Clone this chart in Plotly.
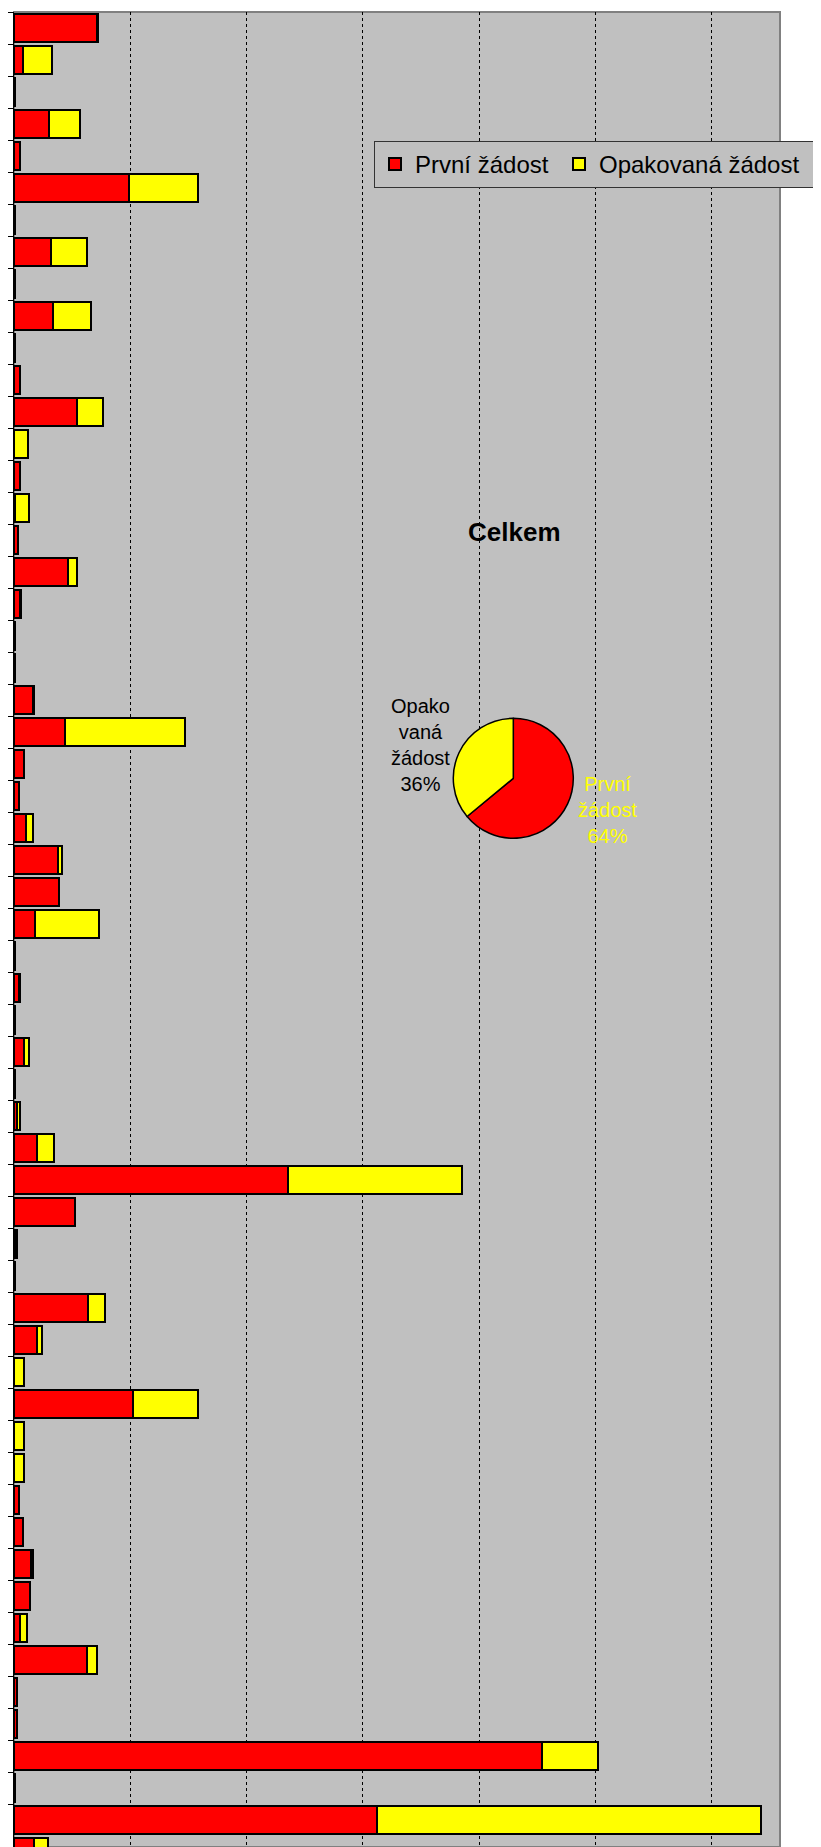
import plotly.graph_objects as go

# Category slots (labels are cropped out of the reference, only positions remain)
categories = [str(i + 1) for i in range(58)]

prvni = [71, 7.5, 1, 30.4, 5.5, 98.6, 1, 31.8, 1, 33.8,
         1, 5, 54.4, 0, 5, 1, 3.5, 46, 5, 1,
         1, 16, 44, 9, 4, 10, 38, 38.5, 18, 1,
         4, 1, 9, 1, 3, 19.5, 236, 52.5, 2, 1,
         64, 20, 0, 102, 0, 0, 4, 8, 15, 14,
         5, 63, 3, 3, 454, 0.5, 312, 17]

opakovana = [1, 25, 0, 26.4, 0, 59.6, 0, 31, 0, 32.4,
             0, 0, 21.8, 12, 0, 12, 0, 8.3, 1, 0,
             0, 1, 102.6, 0, 0, 6, 3.5, 0, 54.7, 0,
             1, 0, 4, 0, 2, 15, 149, 0, 1, 0,
             14.6, 4, 8.6, 56, 8.5, 8.5, 0, 0, 1, 0,
             6, 8.5, 0, 0, 48, 0, 330, 12]

series_names = ["První žádost", "Opakovaná žádost"]
series_colors = ["#FF0000", "#FFFF00"]

pie_labels = ["První žádost", "Opakovaná žádost"]
pie_values = [64, 36]

OFF = 8  # default page body margin
W, H = 813, 1839
ML, MR, MT, MB = 6, 41, 4, 0
PW, PH = W - ML - MR, H - MT - MB


def px_x(x):
    return (x - OFF - ML) / PW


def px_y(y):
    return (OFF + H - MB - y) / PH


fig = go.Figure()
legend_widths = [139, 215]
for name, vals, col, lw in zip(series_names, [prvni, opakovana], series_colors, legend_widths):
    fig.add_trace(go.Bar(
        y=categories, x=vals, name=name, orientation="h", legendwidth=lw,
        marker=dict(color=col, line=dict(color="black", width=2)),
    ))

# pie: centre (513, 778), radius 60 px
fig.add_trace(go.Pie(
    labels=pie_labels, values=pie_values, sort=False, direction="clockwise",
    rotation=0, textinfo="none", showlegend=False,
    marker=dict(colors=series_colors, line=dict(color="black", width=1.5)),
    domain=dict(x=[px_x(453.3), px_x(573.3)], y=[px_y(838.3), px_y(718.3)]),
))

fig.update_layout(
    width=W, height=H,
    margin=dict(l=ML, r=MR, t=MT, b=MB, pad=0),
    paper_bgcolor="white", plot_bgcolor="#C0C0C0",
    barmode="stack", bargap=0.15,
    font=dict(family="Liberation Sans, Arial, sans-serif", color="black"),
    legend=dict(
        orientation="h", x=px_x(374), xanchor="left", y=px_y(141), yanchor="top",
        bgcolor="#C0C0C0", bordercolor="#333333", borderwidth=1,
        font=dict(size=24, family="Liberation Sans, Arial, sans-serif"),
        itemwidth=30, traceorder="normal",
    ),
    xaxis=dict(
        range=[0, 766 / 1.163], dtick=100, tick0=0, showticklabels=False,
        showgrid=True, gridcolor="black", gridwidth=1, griddash="dot",
        zeroline=False, showline=False, ticks="",
    ),
    yaxis=dict(
        type="category", categoryorder="array", categoryarray=categories,
        range=[-0.5 + PH / 32.0, -0.5], showticklabels=False,
        ticks="outside", tickson="boundaries", ticklen=7, tickcolor="black",
        tickwidth=1, showline=True, linecolor="black", linewidth=1,
        showgrid=False, zeroline=False, automargin=False,
    ),
    shapes=[dict(
        type="rect", xref="paper", yref="paper", x0=0, x1=1, y0=0, y1=1,
        line=dict(color="#808080", width=2), fillcolor="rgba(0,0,0,0)", layer="below",
    )],
    annotations=[
        dict(text="<b>Celkem</b>", x=px_x(514), y=px_y(532), xref="paper", yref="paper",
             showarrow=False, xanchor="center", yanchor="middle",
             font=dict(size=26, color="black")),
        dict(text="Opako<br>vaná<br>žádost<br>36%", x=px_x(420), y=px_y(745),
             xref="paper", yref="paper", showarrow=False, align="center",
             xanchor="center", yanchor="middle", font=dict(size=20, color="black")),
        dict(text="První<br>žádost<br>64%", x=px_x(607), y=px_y(810),
             xref="paper", yref="paper", showarrow=False, align="center",
             xanchor="center", yanchor="middle", font=dict(size=20, color="#FFFF00")),
    ],
)

fig.write_html("out.html")
